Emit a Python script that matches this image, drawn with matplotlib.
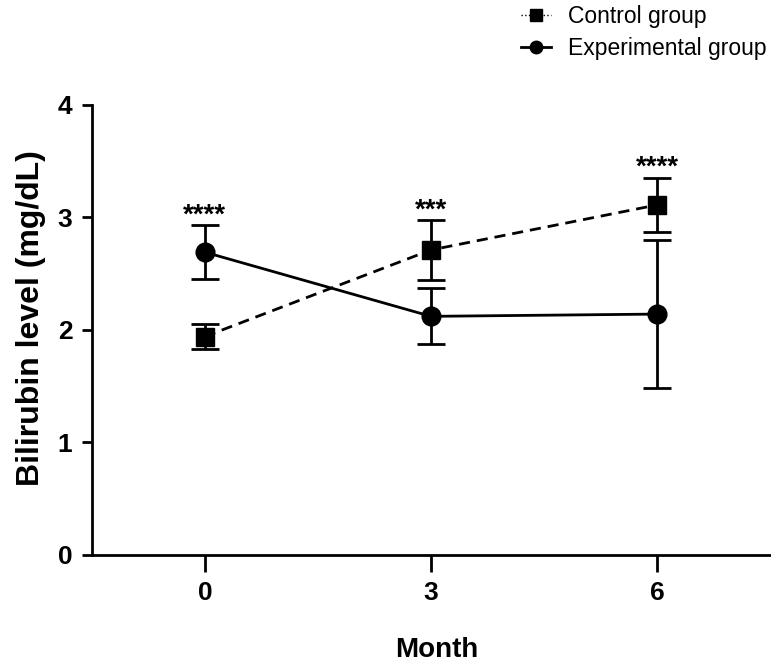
import matplotlib
matplotlib.use("Agg")
import matplotlib.pyplot as plt
from matplotlib.lines import Line2D

plt.rcParams["font.family"] = ["Liberation Sans", "DejaVu Sans"]

months = [0, 3, 6]
control_mean = [1.94, 2.71, 3.11]
control_err = [0.11, 0.27, 0.24]
exp_mean = [2.69, 2.12, 2.14]
exp_err = [0.24, 0.25, 0.66]
stars = ["****", "***", "****"]
star_y = [2.95, 3.00, 3.38]

fig = plt.figure(figsize=(7.71, 6.63), dpi=100)
ax = fig.add_axes([0.119, 0.163, 0.88, 0.679])

ax.errorbar(months, control_mean, yerr=control_err, color="black", lw=2,
            ls=(0, (4, 2.5)), marker="s", ms=13, capsize=10, capthick=2,
            elinewidth=2)
ax.errorbar(months, exp_mean, yerr=exp_err, color="black", lw=2,
            ls="-", marker="o", ms=13.5, capsize=10, capthick=2,
            elinewidth=2)

for m, s, y in zip(months, stars, star_y):
    ax.text(m, y, s, ha="center", va="baseline", fontsize=20, fontweight="bold")

ax.set_xlim(-1.5, 7.5)
ax.set_ylim(0, 4)
ax.set_xticks(months)
ax.set_yticks([0, 1, 2, 3, 4])
ax.spines["top"].set_visible(False)
ax.spines["right"].set_visible(False)
ax.spines["left"].set_linewidth(2)
ax.spines["bottom"].set_linewidth(2)
ax.tick_params(axis="x", length=12, width=2, labelsize=19, pad=7)
ax.tick_params(axis="y", length=7, width=2, labelsize=19, pad=7)
for lab in ax.get_xticklabels() + ax.get_yticklabels():
    lab.set_fontweight("bold")

ax.set_xlabel("Month", fontsize=20, fontweight="bold")
ax.xaxis.set_label_coords(0.508, -0.182)
ax.set_ylabel("Bilirubin level (mg/dL)", fontsize=23, fontweight="bold")
ax.yaxis.set_label_coords(-0.067, 0.527)

handles = [
    Line2D([], [], color="black", ls=":", lw=1, marker="s", ms=9),
    Line2D([], [], color="black", ls="-", lw=2, marker="o", ms=9),
]
fig.legend(handles, ["Control group", "Experimental group"],
           loc="upper right", bbox_to_anchor=(1.0, 1.0), frameon=False,
           fontsize=16.5, handlelength=1.3, handletextpad=0.75, labelspacing=0.42,
           borderpad=0.1, borderaxespad=0.1)

fig.savefig("out.png", dpi=100)
